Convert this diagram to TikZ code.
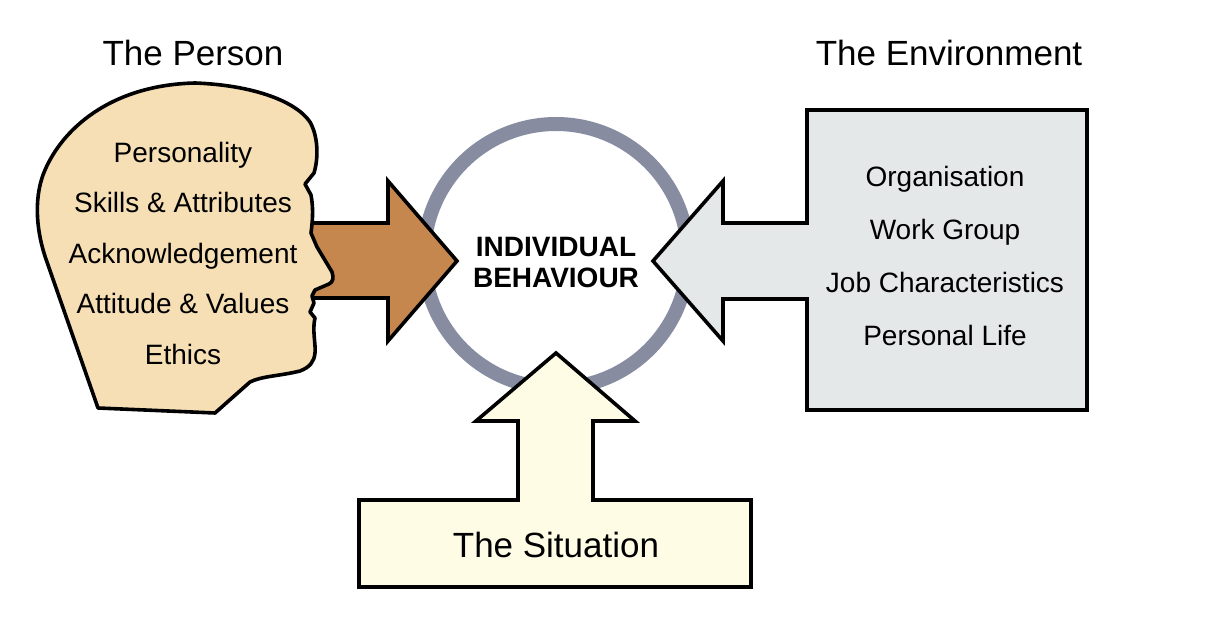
\documentclass[tikz,border=0pt]{standalone}
\usepackage{fontspec}
\setmainfont{Liberation Sans}
\definecolor{headfill}{HTML}{F6DFB5}
\definecolor{brownarrow}{HTML}{C6874F}
\definecolor{envfill}{HTML}{E5E8E9}
\definecolor{sitfill}{HTML}{FEFCE4}
\definecolor{ringcol}{HTML}{878CA1}
\tikzset{
  outline/.style={draw=black,line width=3.6pt,line join=miter},
  ring/.style={draw=ringcol,line width=14pt},
  title/.style={anchor=base,inner sep=0pt,font=\fontsize{35}{40}\selectfont},
  item/.style={anchor=base,inner sep=0pt,font=\fontsize{28}{32}\selectfont},
  centre/.style={inner sep=0pt,align=center,font=\fontsize{28}{31}\selectfont\bfseries}
}
\begin{document}
\begin{tikzpicture}[x=1pt,y=-1pt]
\useasboundingbox[fill=white] (0,0) rectangle (1216,620);
% ring
\draw[ring] (556,256) circle[radius=132pt];
% person arrow (behind the head)
\draw[outline,fill=brownarrow] (300,223) -- (388,223) -- (388,181) -- (457,261) -- (388,341) -- (388,298) -- (300,298) -- cycle;
% head
\draw[outline,fill=headfill,line join=round]
  (98,408) -- (47,262)
  .. controls (36,232) and (34,200) .. (43,175)
  .. controls (60,130) and (110,85) .. (195,83)
  .. controls (250,85) and (295,100) .. (310,122)
  .. controls (319,138) and (318,160) .. (314,173)
  -- (305,184) -- (311,195)
  .. controls (314,210) and (312,225) .. (311,233)
  -- (317,247) -- (332,272)
  .. controls (334,278) and (333,282) .. (329,284)
  -- (315,290) -- (312,296) -- (314,303) -- (310,312) -- (315,318)
  .. controls (312,330) and (316,345) .. (315,353)
  .. controls (314,362) and (310,367) .. (300,371)
  .. controls (280,376) and (262,376) .. (250,382)
  -- (215,413) -- cycle;
% environment box with arrow
\draw[outline,fill=envfill] (807,110) -- (1087,110) -- (1087,410) -- (807,410) -- (807,299) -- (723,299) -- (723,341) -- (653,261) -- (723,181) -- (723,223) -- (807,223) -- cycle;
% situation box with arrow
\draw[outline,fill=sitfill] (359,500) -- (518,500) -- (518,421) -- (476,421) -- (556,353) -- (635,421) -- (593,421) -- (593,500) -- (751,500) -- (751,587) -- (359,587) -- cycle;
% titles
\node[title] (tperson) at (193,66) {The Person};
\node[title] (tenv) at (949,66) {The Environment};
\node[title] (tsit) at (556,557) {The Situation};
% centre
\node[centre] (ib) at (556,263) {INDIVIDUAL\\BEHAVIOUR};
% person items
\node[item] (p1) at (183,163) {Personality};
\node[item] (p2) at (183,213) {Skills \& Attributes};
\node[item] (p3) at (183,264) {Acknowledgement};
\node[item] (p4) at (183,314) {Attitude \& Values};
\node[item] (p5) at (183,364) {Ethics};
% environment items
\node[item] (e1) at (945,187) {Organisation};
\node[item] (e2) at (945,240) {Work Group};
\node[item] (e3) at (945,293) {Job Characteristics};
\node[item] (e4) at (945,345) {Personal Life};
\end{tikzpicture}
\end{document}
